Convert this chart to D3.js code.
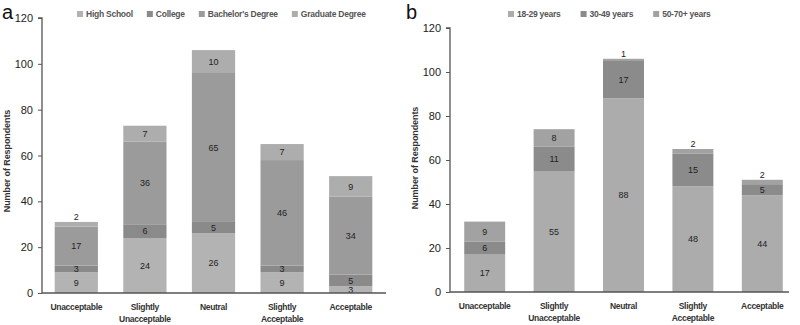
<!DOCTYPE html>
<html>
<head>
<meta charset="utf-8">
<script src="https://cdn.jsdelivr.net/npm/d3@7"></script>
<style>
  body { margin: 0; background: #fff; }
  svg { display: block; }
  text { font-family: "Liberation Sans", Arial, sans-serif; }
</style>
</head>
<body>
<script>
// Data
const categories = ['Unacceptable', 'Slightly Unacceptable', 'Neutral', 'Slightly Acceptable', 'Acceptable']
const yTicks = [0, 20, 40, 60, 80, 100, 120]

const eduSeries = ['High School', 'College', "Bachelor's Degree", 'Graduate Degree']
const highSchool = [9, 24, 26, 9, 3]
const college = [3, 6, 5, 3, 5]
const bachelors = [17, 36, 65, 46, 34]
const graduate = [2, 7, 10, 7, 9]

const ageSeries = ['18-29 years', '30-49 years', '50-70+ years']
const age18 = [17, 55, 88, 48, 44]
const age30 = [6, 11, 17, 15, 5]
const age50 = [9, 8, 1, 2, 2]

const svg = d3.select('body').append('svg')
    .attr('width', 800)
    .attr('height', 325)

function drawPanel(opts) {
    const g = svg.append('g')
    const keys = opts.series
    const rows = categories.map((c, i) => {
        const r = { cat: c }
        keys.forEach((k, j) => r[k] = opts.values[j][i])
        return r
    })
    const stacked = d3.stack().keys(keys)(rows)

    const x = d3.scaleBand()
        .domain(categories)
        .range([opts.left, opts.right])
        .paddingInner(opts.pad)
        .paddingOuter(opts.pad / 2)

    const y = d3.scaleLinear()
        .domain([0, 120])
        .range([opts.bottom, opts.top])

    // bars
    stacked.forEach((layer, li) => {
        g.append('g').selectAll('rect')
            .data(layer)
            .join('rect')
            .attr('x', d => x(d.data.cat))
            .attr('width', x.bandwidth())
            .attr('y', d => y(d[1]))
            .attr('height', d => y(d[0]) - y(d[1]))
            .attr('fill', opts.colors[li])
    })

    // value labels
    stacked.forEach((layer, li) => {
        const isTop = li === stacked.length - 1
        g.append('g').selectAll('text')
            .data(layer)
            .join('text')
            .attr('x', d => x(d.data.cat) + x.bandwidth() / 2)
            .attr('y', d => {
                const v = d[1] - d[0]
                if (isTop && v <= 2) return y(d[1]) - 5
                return (y(d[0]) + y(d[1])) / 2
            })
            .attr('dy', '0.35em')
            .attr('text-anchor', 'middle')
            .style('font-size', '9px')
            .style('fill', '#222')
            .text(d => d[1] - d[0])
    })

    // y axis
    const yAxis = d3.axisLeft(y).tickValues(yTicks).tickSize(4).tickPadding(5)
    const ya = g.append('g')
        .attr('transform', `translate(${opts.left},0)`)
        .call(yAxis)
    ya.selectAll('text').style('font-size', '11px').style('fill', '#222').style('font-family', '"Liberation Sans", Arial, sans-serif')
    ya.selectAll('line').attr('stroke', '#555')
    ya.select('.domain').attr('stroke', '#555').attr('stroke-width', 1.3)
        .attr('d', `M-4,${opts.top}H0V${opts.bottom}`)

    // x axis line
    g.append('line')
        .attr('x1', opts.left).attr('x2', opts.axisEnd)
        .attr('y1', opts.bottom).attr('y2', opts.bottom)
        .attr('stroke', '#555').attr('stroke-width', 1.3)

    // category labels
    categories.forEach(c => {
        const words = c.split(' ')
        const lines = words.length > 1 ? [words[0], words.slice(1).join(' ')] : [c]
        const t = g.append('text')
            .attr('x', x(c) + x.bandwidth() / 2)
            .attr('y', opts.bottom + 17)
            .attr('text-anchor', 'middle')
            .style('font-size', '8.5px')
            .style('font-weight', 'bold')
            .style('letter-spacing', '-0.3px')
            .style('fill', '#333')
        lines.forEach((l, i) => t.append('tspan')
            .attr('x', x(c) + x.bandwidth() / 2)
            .attr('dy', i === 0 ? 0 : 12)
            .text(l))
    })

    // y title
    g.append('text')
        .attr('transform', `translate(${opts.titleX},${opts.titleY}) rotate(-90)`)
        .attr('text-anchor', 'middle')
        .style('font-size', '9px')
        .style('font-weight', 'bold')
        .style('letter-spacing', '-0.1px')
        .style('fill', '#333')
        .text('Number of Respondents')

    // panel letter
    g.append('text')
        .attr('x', opts.letterX).attr('y', 19)
        .style('font-size', '20px')
        .style('fill', '#111')
        .text(opts.letter)

    // legend
    let lx = opts.legendX
    keys.forEach((k, i) => {
        g.append('rect')
            .attr('x', lx).attr('y', 11)
            .attr('width', 6).attr('height', 6)
            .attr('fill', opts.colors[i])
        const t = g.append('text')
            .attr('x', lx + 9).attr('y', 14)
            .attr('dy', '0.35em')
            .style('font-size', '8.5px')
            .style('font-weight', 'bold')
            .style('letter-spacing', '-0.25px')
            .style('fill', '#555')
            .text(k)
        lx += 9 + t.node().getComputedTextLength() + opts.legendGap
    })
}

drawPanel({
    letter: 'a', letterX: 2,
    series: eduSeries,
    values: [highSchool, college, bachelors, graduate],
    colors: ['#b3b3b3', '#8a8a8a', '#9b9b9b', '#adadad'],
    left: 42, right: 385, axisEnd: 386, top: 18, bottom: 293,
    pad: 0.37, titleX: 10, titleY: 161, legendX: 77, legendGap: 14
})

drawPanel({
    letter: 'b', letterX: 406,
    series: ageSeries,
    values: [age18, age30, age50],
    colors: ['#acacac', '#8b8b8b', '#a2a2a2'],
    left: 450, right: 797, axisEnd: 789, top: 28, bottom: 292,
    pad: 0.41, titleX: 418, titleY: 158, legendX: 508, legendGap: 20
})
</script>
</body>
</html>
